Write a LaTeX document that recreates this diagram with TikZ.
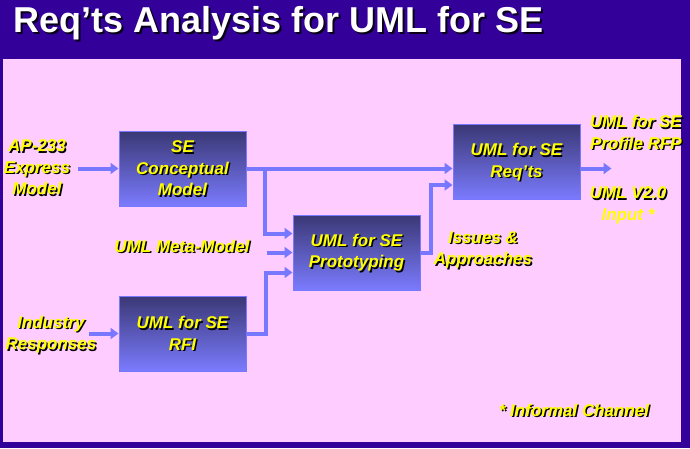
\documentclass[tikz,border=0pt]{standalone}
\usepackage{fontspec}
\setmainfont{Liberation Sans}
\usetikzlibrary{arrows.meta}

\definecolor{slideblue}{HTML}{330099}
\definecolor{panelpink}{HTML}{FFCCFF}
\definecolor{flowblue}{HTML}{7777FF}
\definecolor{boxtop}{HTML}{3A3875}
\definecolor{boxbottom}{HTML}{7B7BFF}
\definecolor{lblyellow}{HTML}{FFFF00}

% yellow text with a black drop shadow
\newcommand{\shadowed}[3]{%
  \node[lbl, text=black] (#1-sh) at ([shift={(1.5pt,-1.5pt)}]#2) {#3};
  \node[lbl] (#1) at (#2) {#3};}

\begin{document}
\begin{tikzpicture}[
  x=1pt, y=-1pt,
  lbl/.style={font=\fontsize{17}{21.5}\selectfont\bfseries\itshape,
    text=lblyellow, align=center, inner sep=0pt},
  ttl/.style={font=\fontsize{36}{40}\selectfont\bfseries,
    anchor=base west, inner sep=0pt},
  procbox/.style={rectangle, draw=flowblue, line width=1pt,
    top color=boxtop, bottom color=boxbottom,
    minimum width=127pt, minimum height=75pt},
  flow/.style={draw=flowblue, line width=4pt,
    -{Triangle[length=8pt,width=11pt]}},
]

% Slide background and panel
\fill[slideblue] (0,0) rectangle (690,448);
\fill[panelpink] (3,59) rectangle (681,442);

% Title
\node[ttl, text=black!85!slideblue] (title-sh) at (15,34.5)
  {Req’ts Analysis for UML for SE};
\node[ttl, text=white] (title) at (13,32.5)
  {Req’ts Analysis for UML for SE};

% Process boxes
\node[procbox] (concept) at (182.5,168.5) {};
\node[procbox] (reqts) at (516.5,162) {};
\node[procbox] (proto) at (356.5,252.5) {};
\node[procbox] (rfi) at (182.5,333.5) {};

\shadowed{concept-t}{concept.center}{SE\\Conceptual\\Model}
\shadowed{reqts-t}{reqts.center}{UML for SE\\Req’ts}
\shadowed{proto-t}{proto.center}{UML for SE\\Prototyping}
\shadowed{rfi-t}{rfi.center}{UML for SE\\RFI}

% Inputs and outputs
\shadowed{ap}{37,167.5}{AP-233\\Express\\Model}
\shadowed{meta}{182,246}{UML Meta-Model}
\shadowed{industry}{51,334.5}{Industry\\Responses}
\shadowed{issues}{483,250}{Issues \&\\Approaches}
\shadowed{rfp}{636,132.5}{UML for SE\\Profile RFP}
\shadowed{v2}{628,193}{UML V2.0}
\node[lbl] (input) at (628,216) {Input *};
\shadowed{note}{574,410}{* Informal Channel}

% Connectors
\coordinate (split) at ([xshift=18pt]concept.east);
\coordinate (rfpout) at ([xshift=31pt]reqts.east |- split);

\draw[flow] ([xshift=8pt]ap.east |- concept.west) -- (concept.west);
\draw[flow] (concept.east) -- (concept.east -| reqts.west);
\draw[flow] (split) |- ([yshift=19pt]proto.west);
\draw[flow] ([xshift=17pt]meta.east |- proto.west) -- (proto.west);
\draw[flow] (rfi.east) -- ++(19,0) |- ([yshift=-20pt]proto.west);
\draw[flow] (proto.east) -- ++(10,0) |- ([yshift=-23pt]reqts.west);
\draw[flow] (reqts.east |- split) -- (rfpout);
\draw[flow] ([xshift=-8pt]industry.east |- rfi.west) -- (rfi.west);

\end{tikzpicture}
\end{document}
